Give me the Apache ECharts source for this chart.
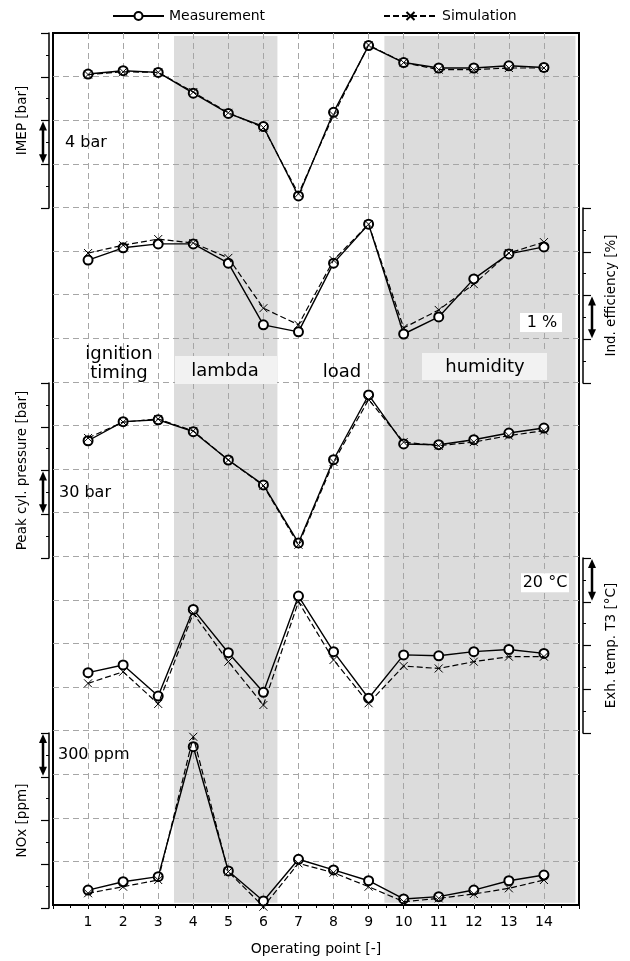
<!DOCTYPE html>
<html>
<head>
<meta charset="utf-8">
<script src="https://cdn.jsdelivr.net/npm/echarts@6/dist/echarts.min.js"></script>
<style>
html, body { margin: 0; padding: 0; background: #fff; }
#chart { width: 630px; height: 961px; }
</style>
</head>
<body>
<div id="chart"></div>
<script>
// operating points on the x axis
const points = [1, 2, 3, 4, 5, 6, 7, 8, 9, 10, 11, 12, 13, 14];

// IMEP [bar]
const imepMeas = [20.25, 20.55, 20.4, 18.5, 16.65, 15.45, 9.1, 16.75, 22.85, 21.3, 20.8, 20.8, 21.0, 20.85];
const imepSim = [20.2, 20.45, 20.4, 18.6, 16.7, 15.35, 9.3, 16.5, 22.9, 21.3, 20.65, 20.65, 20.8, 20.8];
const imepRange = [8, 24];

// indicated efficiency [%]
const effMeas = [46.81, 47.09, 47.18, 47.18, 46.74, 45.33, 45.17, 46.74, 47.63, 45.12, 45.51, 46.38, 46.95, 47.11];
const effSim = [46.97, 47.15, 47.29, 47.2, 46.86, 45.71, 45.33, 46.81, 47.63, 45.26, 45.67, 46.26, 46.97, 47.22];
const effRange = [44, 48];

// peak cylinder pressure [bar]
const peakMeas = [180.4, 193.5, 194.8, 186.6, 167.2, 150.1, 110.3, 167.4, 211.8, 178.2, 177.7, 181.1, 185.7, 189.1];
const peakSim = [182.3, 193.2, 195.3, 187.1, 167.2, 149.6, 109.1, 165.8, 208.6, 179.5, 177.0, 179.5, 183.9, 187.3];
const peakRange = [100, 220];

// exhaust temperature T3 [°C]
const exhMeas = [467.6, 471.1, 456.9, 496.5, 476.7, 458.6, 502.6, 477.2, 455.9, 475.7, 475.3, 477.2, 478.2, 476.4];
const exhSim = [462.7, 468.0, 453.3, 494.7, 472.6, 452.8, 500.0, 473.4, 453.6, 470.6, 469.5, 472.6, 474.9, 474.9];
const exhRange = [440, 520];

// NOx [ppm]
const noxMeas = [123, 180, 215, 1106, 254, 48, 334, 261, 187, 62, 78, 123, 187, 226];
const noxSim = [101, 146, 192, 1174, 249, 9, 306, 242, 146, 43, 66, 96, 135, 192];
const noxRange = [0, 1200];

// grey variation blocks (operating point ranges)
const shadeLambda = [3.45, 6.4];
const shadeHumidity = [9.45, 14.9];

// layout
const FONT = "DejaVu Sans";
const TOP = 33, BOTTOM = 53, LEFT = 53, RIGHT = 51;
const DIV = (961 - TOP - BOTTOM) / 20; // one dashed grid division
const divY = (d) => TOP + d * DIV;

const panels = [
	{ name: "IMEP [bar]", pos: "left", div: 0, range: imepRange, meas: imepMeas, sim: imepSim },
	{ name: "Ind. efficiency [%]", pos: "right", div: 4, range: effRange, meas: effMeas, sim: effSim },
	{ name: "Peak cyl. pressure [bar]", pos: "left", div: 8, range: peakRange, meas: peakMeas, sim: peakSim },
	{ name: "Exh. temp. T3 [°C]", pos: "right", div: 12, range: exhRange, meas: exhMeas, sim: exhSim },
	{ name: "NOx [ppm]", pos: "left", div: 16, range: noxRange, meas: noxMeas, sim: noxSim },
];

const dashed = { color: "#a6a6a6", width: 1, type: [6, 4] };
const crossSymbol = "path://M0,0L10,10M10,0L0,10";

let grids = [{ left: LEFT, right: RIGHT, top: TOP, bottom: BOTTOM, show: true, borderColor: "#000", borderWidth: 2 }];
let xAxes = [{
	gridIndex: 0, type: "value", min: 0, max: 15, interval: 1, z: 3,
	axisLine: { show: false },
	axisTick: { show: true, length: 4, lineStyle: { color: "#000" } },
	minorTick: { show: true, splitNumber: 2, length: 3, lineStyle: { color: "#000" } },
	axisLabel: {
		color: "#000", fontSize: 14, fontFamily: FONT, margin: 10,
		formatter: (v) => (v >= 1 && v <= 14 ? String(v) : ""),
	},
	splitLine: { show: true, showMinLine: false, showMaxLine: false, lineStyle: dashed },
	name: "Operating point [-]", nameLocation: "middle", nameGap: 37,
	nameTextStyle: { color: "#000", fontSize: 14, fontFamily: FONT },
}];
let yAxes = [{
	gridIndex: 0, type: "value", min: 0, max: 20, interval: 1, z: 3,
	axisLine: { show: false }, axisTick: { show: false }, axisLabel: { show: false },
	splitLine: { show: true, showMinLine: false, showMaxLine: false, lineStyle: dashed },
}];
let series = [{
	type: "line", xAxisIndex: 0, yAxisIndex: 0, data: [], z: 1, silent: true,
	markArea: {
		silent: true,
		itemStyle: { color: "#dcdcdc" },
		data: [
			[{ xAxis: shadeLambda[0], yAxis: 0.05 }, { xAxis: shadeLambda[1], yAxis: 19.93 }],
			[{ xAxis: shadeHumidity[0], yAxis: 0.05 }, { xAxis: shadeHumidity[1], yAxis: 19.93 }],
		],
	},
}];

panels.forEach((p, i) => {
	const g = i + 1;
	grids.push({ left: LEFT, right: RIGHT, top: divY(p.div), height: 4 * DIV });
	xAxes.push({ gridIndex: g, type: "value", min: 0, max: 15, show: false });
	yAxes.push({
		gridIndex: g, type: "value", position: p.pos, offset: 4,
		min: p.range[0], max: p.range[1], interval: (p.range[1] - p.range[0]) / 4,
		name: p.name, nameLocation: "middle", nameGap: p.pos === "left" ? 20 : 21,
		nameTextStyle: { color: "#000", fontSize: 13.5, fontFamily: FONT },
		axisLine: { show: true, onZero: false, lineStyle: { color: "#000", width: 1.5 } },
		axisTick: { show: true, length: 8, lineStyle: { color: "#000", width: 1.2 } },
		minorTick: { show: true, splitNumber: 2, length: 3, lineStyle: { color: "#000" } },
		axisLabel: { show: false },
		splitLine: { show: false },
	});
	series.push({
		name: "Measurement", type: "line", xAxisIndex: g, yAxisIndex: g, z: 10,
		data: points.map((x, k) => [x, p.meas[k]]),
		symbol: "emptyCircle", symbolSize: 9,
		itemStyle: { color: "#000", borderWidth: 1 },
		lineStyle: { color: "#000", width: 1.4 },
	});
	series.push({
		name: "Simulation", type: "line", xAxisIndex: g, yAxisIndex: g, z: 11,
		data: points.map((x, k) => [x, p.sim[k]]),
		symbol: crossSymbol, symbolSize: 8,
		itemStyle: { color: "#000", borderColor: "#000", borderWidth: 1 },
		lineStyle: { color: "#000", width: 1.2, type: [6, 3] },
	});
});

// double arrows showing the size of one grid division
function arrow(x, d) {
	const y1 = divY(d) + 1, y2 = divY(d + 1) - 1;
	return {
		type: "group", z: 30,
		children: [
			{ type: "line", shape: { x1: x, y1: y1 + 6, x2: x, y2: y2 - 6 }, style: { stroke: "#000", lineWidth: 2.5 } },
			{ type: "polygon", shape: { points: [[x, y1], [x - 4, y1 + 9], [x + 4, y1 + 9]] }, style: { fill: "#000" } },
			{ type: "polygon", shape: { points: [[x, y2], [x - 4, y2 - 9], [x + 4, y2 - 9]] }, style: { fill: "#000" } },
		],
	};
}
function label(x, y, text, size, align) {
	return {
		type: "text", x: x, y: y, z: 40,
		style: { text: text, fill: "#000", font: size + "px " + FONT, align: align || "center", verticalAlign: "middle", lineHeight: 19 },
	};
}
function box(x, y, w, h, fill) {
	return { type: "rect", z: 35, shape: { x: x, y: y, width: w, height: h }, style: { fill: fill } };
}

const xr = 630 - RIGHT;
const graphics = [
	arrow(LEFT - 10, 2), arrow(xr + 13, 6), arrow(LEFT - 10, 10), arrow(xr + 13, 12), arrow(LEFT - 10, 16),
	label(LEFT + 12, divY(2.5), "4 bar", 16, "left"),
	label(LEFT + 6, divY(10.5), "30 bar", 16, "left"),
	label(LEFT + 5, divY(16.5), "300 ppm", 16, "left"),
	box(520, divY(6.4), 42, 19, "#fff"),
	label(542, divY(6.4) + 10, "1 %", 16),
	box(521, divY(12.35), 48, 19, "#fff"),
	label(545, divY(12.35) + 10, "20 °C", 16),
	label(119, 364, "ignition\ntiming", 18),
	box(175, 356, 102, 28, "#f2f2f2"),
	label(225, 371, "lambda", 18),
	label(342, 372, "load", 18),
	box(422, 353, 125, 27, "#f2f2f2"),
	label(485, 367, "humidity", 18),
];

const legendText = { color: "#000", fontSize: 14, fontFamily: FONT };
const option = {
	animation: false,
	textStyle: { fontFamily: FONT },
	legend: [
		{ data: ["Measurement"], left: 112, top: 9, padding: 0, itemWidth: 51, itemHeight: 10, textStyle: legendText },
		{ data: ["Simulation"], left: 383, top: 9, padding: 0, itemWidth: 53, itemHeight: 10, textStyle: legendText },
	],
	grid: grids,
	xAxis: xAxes,
	yAxis: yAxes,
	series: series,
	graphic: { elements: graphics },
};

const myChart = echarts.init(document.getElementById("chart"));
myChart.setOption(option);
</script>
</body>
</html>
